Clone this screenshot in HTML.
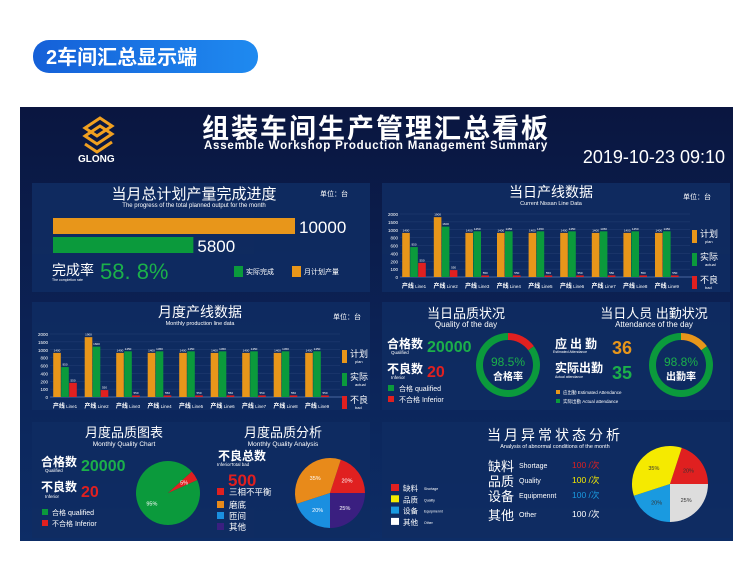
<!DOCTYPE html>
<html><head><meta charset="utf-8"><style>
body{margin:0;width:750px;height:576px;background:#fff;overflow:hidden;font-family:"Liberation Sans","Noto Sans CJK SC",sans-serif}
svg{position:absolute;left:0;top:0}
</style></head><body>
<svg id="s" width="750" height="576" xmlns="http://www.w3.org/2000/svg" font-family="Liberation Sans, Noto Sans CJK SC, sans-serif">
<defs>
<linearGradient id="pill" x1="0" x2="1"><stop offset="0" stop-color="#1560d8"/><stop offset="1" stop-color="#1f8af0"/></linearGradient>
<linearGradient id="bg" x1="0" y1="0" x2="0" y2="1"><stop offset="0" stop-color="#0a1640"/><stop offset="0.6" stop-color="#0c2458"/><stop offset="1" stop-color="#0d2d66"/></linearGradient>
</defs>
<rect x="33" y="40" width="225" height="33" rx="16" fill="url(#pill)"/>
<text x="46" y="64" fill="#fff" font-size="20" font-weight="bold">2车间汇总显示端</text>
<rect x="20" y="107" width="713" height="434" fill="url(#bg)"/>
<g fill="none" stroke="#f0a020" stroke-width="3">
<path d="M85 128 L100 118 L112 126 L97 136 Z"/><path d="M85 136 L100 126 L112 134 L97 144 Z"/><path d="M85 144 L97 152 L112 142"/>
</g>
<text x="78" y="162" fill="#fff" font-size="10" font-weight="bold">GLONG</text>
<text x="376" y="138" fill="#fff" font-size="27" font-weight="bold" text-anchor="middle" letter-spacing="2">组装车间生产管理汇总看板</text>
<text x="376" y="149" fill="#fff" font-size="11.5" font-weight="bold" text-anchor="middle" letter-spacing="0.8">Assemble Workshop Production Management Summary</text>
<text x="725" y="163" fill="#fff" font-size="18" text-anchor="end">2019-10-23  09:10</text>

<g fill="#0f2c62" opacity="0.9">
<rect x="32" y="183" width="338" height="109"/>
<rect x="382" y="183" width="348" height="109"/>
<rect x="32" y="302" width="338" height="108"/>
<rect x="382" y="302" width="348" height="108"/>
<rect x="32" y="422" width="338" height="116"/>
<rect x="382" y="422" width="348" height="116"/>
</g>

<!-- Panel 1 -->
<text x="194" y="199" fill="#fff" font-size="15" text-anchor="middle">当月总计划产量完成进度</text>
<text x="194" y="207" fill="#fff" font-size="6" text-anchor="middle">The progress of the total planned output for the month</text>
<text x="320" y="196" fill="#fff" font-size="7">单位：台</text>
<g id="prog"></g>
<text x="52" y="275" fill="#fff" font-size="14">完成率</text>
<text x="52" y="281" fill="#fff" font-size="3.5">The completion rate</text>
<text x="100" y="279" fill="#1bb04a" font-size="22">58. 8%</text>
<rect x="234" y="266" width="9" height="11" fill="#0b9a3c"/>
<text x="246" y="274" fill="#fff" font-size="7">实际完成</text>
<rect x="292" y="266" width="9" height="11" fill="#e8961a"/>
<text x="304" y="274" fill="#fff" font-size="7">月计划产量</text>

<!-- Panel 2 -->
<text x="551" y="197" fill="#fff" font-size="14" text-anchor="middle">当日产线数据</text>
<text x="551" y="205" fill="#fff" font-size="5.5" text-anchor="middle">Current Nissan Line Data</text>
<text x="683" y="199" fill="#fff" font-size="7">单位：台</text>
<g id="c1"></g>
<!-- Panel 3 -->
<text x="200" y="317" fill="#fff" font-size="14" text-anchor="middle">月度产线数据</text>
<text x="200" y="325" fill="#fff" font-size="5.5" text-anchor="middle">Monthly production line data</text>
<text x="333" y="319" fill="#fff" font-size="7">单位：台</text>
<g id="c2"></g>

<!-- Panel 4 -->
<text x="466" y="318" fill="#fff" font-size="13" text-anchor="middle">当日品质状况</text>
<text x="466" y="327" fill="#fff" font-size="8" text-anchor="middle">Quality of the day</text>
<text x="387" y="348" fill="#fff" font-size="12" font-weight="bold">合格数</text>
<text x="391" y="354" fill="#fff" font-size="4.5">Qualified</text>
<text x="427" y="352" fill="#1bb04a" font-size="16" font-weight="bold">20000</text>
<text x="387" y="373" fill="#fff" font-size="12" font-weight="bold">不良数</text>
<text x="391" y="379" fill="#fff" font-size="4.5">Inferior</text>
<text x="427" y="377" fill="#e02020" font-size="16" font-weight="bold">20</text>
<rect x="388" y="385" width="6" height="6" fill="#0b9a3c"/><text x="399" y="391" fill="#fff" font-size="7">合格  qualified</text>
<rect x="388" y="396" width="6" height="6" fill="#e02020"/><text x="399" y="402" fill="#fff" font-size="7">不合格 Inferior</text>
<g id="d1"></g>
<text x="508" y="366" fill="#1bb04a" font-size="12" text-anchor="middle">98.5%</text>
<text x="508" y="380" fill="#fff" font-size="10" font-weight="bold" text-anchor="middle">合格率</text>

<text x="654" y="318" fill="#fff" font-size="13" text-anchor="middle">当日人员 出勤状况</text>
<text x="654" y="327" fill="#fff" font-size="8" text-anchor="middle">Attendance of the day</text>
<text x="555" y="348" fill="#fff" font-size="12" font-weight="bold" letter-spacing="3">应出勤</text>
<text x="553" y="353" fill="#fff" font-size="3.5">Estimated Attendance</text>
<text x="612" y="354" fill="#e8961a" font-size="18" font-weight="bold">36</text>
<text x="555" y="372" fill="#fff" font-size="12" font-weight="bold">实际出勤</text>
<text x="555" y="378" fill="#fff" font-size="3.5">Actual attendance</text>
<text x="612" y="379" fill="#1bb04a" font-size="18" font-weight="bold">35</text>
<rect x="556" y="390" width="4" height="4" fill="#e8961a"/><text x="563" y="394" fill="#fff" font-size="4.5">应出勤 Estimated Attendance</text>
<rect x="556" y="399" width="4" height="4" fill="#0b9a3c"/><text x="563" y="403" fill="#fff" font-size="4.5">实际出勤 Actual attendance</text>
<g id="d2"></g>
<text x="681" y="366" fill="#1bb04a" font-size="12" text-anchor="middle">98.8%</text>
<text x="681" y="380" fill="#fff" font-size="10" font-weight="bold" text-anchor="middle">出勤率</text>

<!-- Panel 5 -->
<text x="124" y="437" fill="#fff" font-size="13" text-anchor="middle">月度品质图表</text>
<text x="124" y="446" fill="#fff" font-size="6.5" text-anchor="middle">Monthly Quality Chart</text>
<text x="41" y="466" fill="#fff" font-size="12" font-weight="bold">合格数</text>
<text x="45" y="472" fill="#fff" font-size="4.5">Qualified</text>
<text x="81" y="471" fill="#1bb04a" font-size="16" font-weight="bold">20000</text>
<text x="41" y="491" fill="#fff" font-size="12" font-weight="bold">不良数</text>
<text x="45" y="498" fill="#fff" font-size="4.5">Inferior</text>
<text x="81" y="497" fill="#e02020" font-size="16" font-weight="bold">20</text>
<rect x="42" y="509" width="6" height="6" fill="#0b9a3c"/><text x="52" y="515" fill="#fff" font-size="7">合格  qualified</text>
<rect x="42" y="520" width="6" height="6" fill="#e02020"/><text x="52" y="526" fill="#fff" font-size="7">不合格 Inferior</text>
<g id="p1"></g>
<text x="283" y="437" fill="#fff" font-size="13" text-anchor="middle">月度品质分析</text>
<text x="283" y="446" fill="#fff" font-size="6.5" text-anchor="middle">Monthly Quality Analysis</text>
<text x="218" y="460" fill="#fff" font-size="12" font-weight="bold">不良总数</text>
<text x="217" y="466" fill="#fff" font-size="4.5">InferiorTotal bad</text>
<text x="228" y="486" fill="#e02020" font-size="17" font-weight="bold">500</text>
<g id="l1"></g>
<g id="p2"></g>

<!-- Panel 6 -->
<text x="555" y="440" fill="#fff" font-size="14" text-anchor="middle" letter-spacing="3">当月异常状态分析</text>
<text x="555" y="448" fill="#fff" font-size="5.5" text-anchor="middle">Analysis of abnormal conditions of the month</text>
<g id="rows"></g>
<g id="l2"></g>
<g id="p3"></g>
</svg>
<script>
// ===== data =====
const progressLabels = ["10000","5800"];
const progressValues = [10000, 5800];
const lineCats = ["1","2","3","4","5","6","7","8","9"];
const dailyPlan   = [1400,1900,1400,1400,1400,1400,1400,1400,1400];
const dailyActual = [950,1600,1450,1450,1450,1450,1450,1450,1450];
const dailyBad    = [450,220,50,50,50,50,50,50,50];
const monthlyPlan   = [1400,1900,1400,1400,1400,1400,1400,1400,1400];
const monthlyActual = [950,1600,1450,1450,1450,1450,1450,1450,1450];
const monthlyBad    = [450,220,50,50,50,50,50,50,50];
const badLabels = ["550","550","550","550","550","550","550","550","550"];
const yTickLabels = ["0","100","200","400","600","800","1000","1500","2000"];
const qualityDonut = [85,15];
const attendDonut = [85,15];
const monthQualityPie = [95,5];
const monthQualityPieLabels = ["95%","5%"];
const analysisCats = ["三相不平衡","磨底","匝间","其他"];
const analysisValues = [20,35,20,25];
const abnormalCats = ["缺料","品质","设备","其他"];
const abnormalEn = ["Shortage","Quality","Equipmennt","Other"];
const abnormalCounts = [100,100,100,100];
const abnormalPie = [20,25,20,35];
// ===== helpers =====
const NS="http://www.w3.org/2000/svg";
function mk(parent,tag,attrs,txt){const e=document.createElementNS(NS,tag);for(const k in attrs)e.setAttribute(k,attrs[k]);if(txt!==undefined)e.textContent=txt;parent.appendChild(e);return e;}
const ORANGE="#e8961a",GREEN="#0b9a3c",RED="#e02020";
(function(){
 const g=document.getElementById('prog');const x0=53,maxW=242,max=10000;
 const ys=[218,237],cols=[ORANGE,GREEN];
 progressValues.forEach((v,i)=>{const w=v/max*maxW;
  const r=mk(g,'rect',{x:x0,y:ys[i],width:w,height:16,fill:cols[i]});
  
  
  mk(g,'text',{x:x0+w+4,y:ys[i]+15,fill:'#fff','font-size':17},progressLabels[i]);});
})();
function barChart(id,plan,actual,bad,o){
 const g=document.getElementById(id);
 const y=v=>o.y0-v/2000*(o.y0-o.y1);
 const cx=i=>o.c0+i*o.step;
 yTickLabels.forEach((t,i)=>{const yy=o.y0-i*(o.y0-o.y1)/(yTickLabels.length-1);
  mk(g,'text',{x:o.ax-2,y:yy+2,fill:'#fff','font-size':4.5,'text-anchor':'end'},t);
  mk(g,'line',{x1:o.ax,x2:o.ax+290,y1:yy,y2:yy,stroke:'#28457a','stroke-width':0.4});});
 mk(g,'line',{x1:o.ax,x2:o.ax+295,y1:o.y0,y2:o.y0,stroke:'#5a78b0','stroke-width':0.8});
 lineCats.forEach((c,i)=>{
  [[plan,ORANGE,-8],[actual,GREEN,0],[bad,RED,8]].forEach(([arr,col,dx],k)=>{
   const v=arr[i];const b=mk(g,'rect',{x:cx(i)+dx-3.8,y:y(v),width:7.6,height:o.y0-y(v),fill:col});
   
   
   mk(g,'text',{x:cx(i)+dx,y:y(v)-1.5,fill:'#fff','font-size':3,'text-anchor':'middle'},k==2?badLabels[i]:String(v));});
  const t=mk(g,'text',{x:cx(i),y:o.y0+11,fill:'#fff','font-size':6,'text-anchor':'middle','font-weight':'bold'},'产线');
  mk(t,'tspan',{'font-size':4.5,'font-weight':'normal'},' Line'+c);
 });
 const lx=o.lx;[[ORANGE,'计划','plan'],[GREEN,'实际','actual'],[RED,'不良','bad']].forEach(([col,cn,en],k)=>{
  const yy=o.ly+k*23;mk(g,'rect',{x:lx,y:yy,width:5,height:13,fill:col});
  mk(g,'text',{x:lx+8,y:yy+7,fill:'#fff','font-size':9},cn);
  mk(g,'text',{x:lx+13,y:yy+13,fill:'#fff','font-size':4},en);});
}
barChart('c1',dailyPlan,dailyActual,dailyBad,{y0:277,y1:214,c0:414,step:31.6,ax:400,lx:692,ly:230});
barChart('c2',monthlyPlan,monthlyActual,monthlyBad,{y0:397,y1:334,c0:65,step:31.5,ax:50,lx:342,ly:350});
function arc(cx,cy,r,a0,a1){const p=a=>[cx+r*Math.cos(a*Math.PI/180),cy+r*Math.sin(a*Math.PI/180)];
 const [x0,y0]=p(a0),[x1,y1]=p(a1);return `M${cx} ${cy} L${x0} ${y0} A${r} ${r} 0 ${a1-a0>180?1:0} 1 ${x1} ${y1} Z`;}
function pie(id,vals,cols,cx,cy,r,start,labels,labCols,name){
 const g=document.getElementById(id);const tot=vals.reduce((a,b)=>a+b,0);let a=start;
 vals.forEach((v,i)=>{const s=v/tot*360;const p=mk(g,'path',{d:arc(cx,cy,r,a,a+s),fill:cols[i]});
  
  
  if(labels){const m=(a+s/2)*Math.PI/180;mk(g,'text',{x:cx+r*0.6*Math.cos(m),y:cy+r*0.6*Math.sin(m)+2,fill:labCols[i],'font-size':5.5,'text-anchor':'middle'},labels[i]);}
  a+=s;});
}
function donut(id,vals,cols,cx,cy,r){
 const g=document.getElementById(id);const tot=vals.reduce((a,b)=>a+b,0);
 let a=-90; const order=[1,0];
 order.forEach(i=>{const s=vals[i]/tot*360;const r0=r-3.5;
  const p=(ang,rr)=>[cx+rr*Math.cos(ang*Math.PI/180),cy+rr*Math.sin(ang*Math.PI/180)];
  const [x0,y0]=p(a,r0),[x1,y1]=p(a+s-0.01,r0);
  const c=mk(g,'path',{d:`M${x0} ${y0} A${r0} ${r0} 0 ${s>180?1:0} 1 ${x1} ${y1}`,fill:'none',stroke:cols[i],'stroke-width':7});
  
  
  a+=s;});
}
donut('d1',qualityDonut,[GREEN,RED],508,365,32);
donut('d2',attendDonut,[GREEN,ORANGE],681,365,32);
pie('p1',monthQualityPie,[GREEN,RED],168,493,32,-24,monthQualityPieLabels,['#fff','#fff'],'quality-pie');
const aCols=["#e02020","#e88a1a","#1a8fe0","#3a1f80"];
pie('p2',[analysisValues[0],analysisValues[3],analysisValues[2],analysisValues[1]],[aCols[0],aCols[3],aCols[2],aCols[1]],330,493,35,-72,
 [analysisValues[0]+'%',analysisValues[3]+'%',analysisValues[2]+'%',analysisValues[1]+'%'],['#fff','#fff','#fff','#fff'],'analysis-pie');
(function(){const g=document.getElementById('l1');analysisCats.forEach((c,i)=>{const yy=[488,501,512,523][i];
 mk(g,'rect',{x:217,y:yy,width:7,height:7,fill:aCols[i]});mk(g,'text',{x:229,y:yy+7,fill:'#fff','font-size':8.5},c);});})();
const bCols=["#e02020","#f5ea00","#1a9ae0","#ffffff"];
const bTxt=["#e02020","#f5ea00","#1a9ae0","#ffffff"];
(function(){const g=document.getElementById('rows');const ys=[471,486,501,520];
 abnormalCats.forEach((c,i)=>{mk(g,'text',{x:488,y:ys[i],fill:'#fff','font-size':13},c);
  mk(g,'text',{x:519,y:ys[i]-3,fill:'#fff','font-size':7},abnormalEn[i]);
  mk(g,'text',{x:572,y:ys[i]-3,fill:bTxt[i],'font-size':8.5},abnormalCounts[i]+' /次');});
 const l=document.getElementById('l2');abnormalCats.forEach((c,i)=>{const yy=484+i*11.3;
  mk(l,'rect',{x:391,y:yy,width:8,height:7,fill:bCols[i]});mk(l,'text',{x:403,y:yy+7,fill:'#fff','font-size':7.5},c);
  mk(l,'text',{x:424,y:yy+6,fill:'#fff','font-size':3.5},abnormalEn[i]);});})();
pie('p3',abnormalPie,["#e02020","#dddddd","#1a9ae0","#f5ea00"],670,484,38,-72,abnormalPie.map(v=>v+'%'),['#333','#333','#333','#333'],'abnormal-pie');
</script>
</body></html>
